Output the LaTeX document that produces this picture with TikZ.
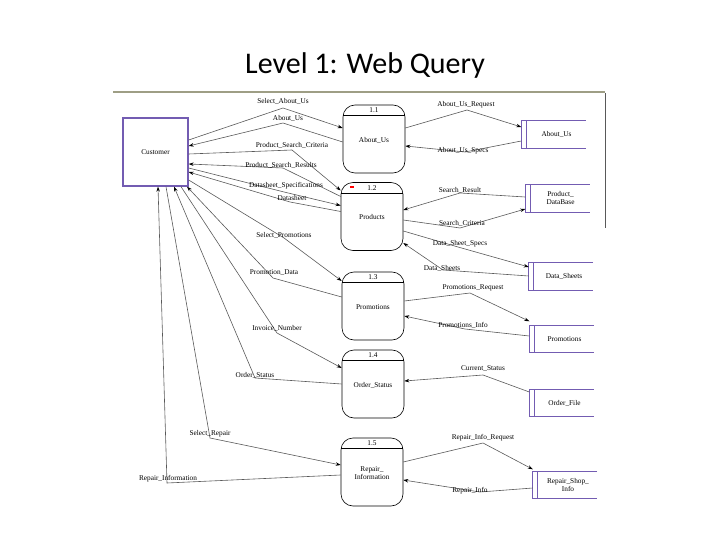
\documentclass[tikz,border=0pt]{standalone}
\usepackage{fontspec}
\setmainfont{Liberation Serif}
\newfontfamily\titlefont{Carlito}
\usetikzlibrary{arrows.meta}
\definecolor{storecol}{rgb}{0.45,0.36,0.70}
\definecolor{linecol}{rgb}{0.35,0.35,0.35}
\definecolor{rulecol}{rgb}{0.62,0.62,0.52}
\begin{document}
\begin{tikzpicture}[x=1pt,y=-1pt,
  lbl/.style={font=\fontsize{7.3}{8}\selectfont,inner sep=0.5pt,align=center},
  proc/.style={draw,rounded corners=12pt,minimum width=62pt,minimum height=68pt,line width=0.6pt},
  store/.style={minimum width=64pt,minimum height=27pt,inner sep=0pt},
  flow/.style={draw=linecol,line width=0.6pt,-{Stealth[length=5pt,width=3.5pt,color=black]}}]
\useasboundingbox (0,0) rectangle (720,540);
% title and frame
\node[font=\titlefont\fontsize{30}{33}\selectfont] (title) at (365,66) {Level 1: Web Query};
\draw[rulecol,line width=2.5pt] (113,92) -- (605,92);
\draw[linecol,line width=0.5pt] (605,93) -- (605,228);
% external entity
\node[draw=storecol,line width=1.3pt,minimum width=65pt,minimum height=68pt,lbl] (c) at (155.5,152) {Customer};
% processes
\foreach \n/\x/\y/\num/\txt in {p1/374/139/1.1/About\_Us, p2/372/216.5/1.2/Products,
  p3/373/306/1.3/Promotions, p4/373/384/1.4/Order\_Status, p5/372/472/1.5/{Repair\_\\Information}}{
  \node[proc] (\n) at (\x,\y) {};
  \draw[line width=0.6pt] ([yshift=-11pt]\n.north west) -- ([yshift=-11pt]\n.north east);
  \node[lbl] (\n num) at ([yshift=-5.5pt]\n.north) {\num};
  \node[lbl] (\n txt) at ([yshift=-1pt]\n.center) {\txt};
}
\node[fill=red,minimum width=4pt,minimum height=2pt,inner sep=0pt] (mark) at (352,187) {};
% data stores
\foreach \n/\x/\y/\txt in {s1/553.5/134.5/About\_Us, s2/557.5/198.5/{Product\_\\DataBase},
  s3/561/276.5/Data\_Sheets, s4/561.5/339/Promotions, s5/561.5/403/Order\_File, s6/565/485/{Repair\_Shop\_\\Info}}{
  \node[store] (\n) at (\x,\y) {};
  \draw[storecol,line width=1pt] (\n.north east) -- (\n.north west) -- (\n.south west) -- (\n.south east);
  \draw[storecol,line width=0.8pt] ([xshift=5pt]\n.north west) -- ([xshift=5pt]\n.south west);
  \node[lbl] (\n txt) at ([xshift=3pt]\n.center) {\txt};
}
% bend points
\coordinate (b1) at (283,108);  \coordinate (b2) at (283,123);
\coordinate (b3) at (292,150);  \coordinate (b4) at (283,168);
\coordinate (b5) at (284,192);  \coordinate (b6) at (290,202);
\coordinate (b7) at (284,238);  \coordinate (b8) at (273,278);
\coordinate (b9) at (277,333);  \coordinate (b10) at (255,378);
\coordinate (b11) at (210,438); \coordinate (b12) at (167,483);
\coordinate (b13) at (467,110); \coordinate (b14) at (465,152);
\coordinate (b15) at (460,193); \coordinate (b16) at (460,228);
\coordinate (b17) at (458,247); \coordinate (b18) at (443,270);
\coordinate (b19) at (470,293); \coordinate (b20) at (465,329);
\coordinate (b21) at (483,375); \coordinate (b22) at (483,443);
\coordinate (b23) at (480,492);
% flows, customer side
\draw[flow] ([yshift=12pt]c.east) -- (b1) -- ([yshift=11pt]p1.west);
\draw[flow] ([yshift=-3pt]p1.west) -- (b2) -- ([yshift=6pt]c.east);
\draw[flow] ([yshift=-2pt]c.east) -- (b3) -- ([yshift=26pt]p2.west);
\draw[flow] ([yshift=20pt]p2.west) -- (b4) -- ([yshift=-12pt]c.east);
\draw[flow] ([yshift=-16pt]c.east) -- (b5) -- ([yshift=11pt]p2.west);
\draw[flow] ([yshift=5pt]p2.west) -- (b6) -- ([yshift=-20pt]c.east);
\draw[flow] ([yshift=-28pt]c.east) -- (b7) -- ([yshift=25pt]p3.west);
\draw[flow] ([yshift=9pt]p3.west) -- (b8) -- ([xshift=31.5pt]c.south);
\draw[flow] ([xshift=25.5pt]c.south) -- (b9) -- ([yshift=16pt]p4.west);
\draw[flow] (p4.west) -- (b10) -- ([xshift=18.5pt]c.south);
\draw[flow] ([xshift=10.5pt]c.south) -- (b11) -- ([yshift=7pt]p5.west);
\draw[flow] ([yshift=-3pt]p5.west) -- (b12) -- ([xshift=2.5pt]c.south);
% flows, store side
\draw[flow] ([yshift=11pt]p1.east) -- (b13) -- ([yshift=7.5pt]s1.west);
\draw[flow] ([yshift=-6.5pt]s1.west) -- (b14) -- ([yshift=-7pt]p1.east);
\draw[flow] ([yshift=1.5pt]s2.west) -- (b15) -- ([yshift=6.5pt]p2.east);
\draw[flow] ([yshift=-3.5pt]p2.east) -- (b16) -- ([yshift=-10.5pt]s2.west);
\draw[flow] ([yshift=-14.5pt]p2.east) -- (b17) -- ([yshift=9.5pt]s3.west);
\draw[flow] ([yshift=0.5pt]s3.west) -- (b18) -- ([yshift=-26.5pt]p2.east);
\draw[flow] ([yshift=5pt]p3.east) -- (b19) -- ([yshift=4pt]s4.north west);
\draw[flow] ([yshift=3pt]s4.west) -- (b20) -- ([yshift=-10pt]p3.east);
\draw[flow] ([yshift=11pt]s5.west) -- (b21) -- ([yshift=3pt]p4.east);
\draw[flow] ([yshift=10pt]p5.east) -- (b22) -- ([yshift=2pt]s6.north west);
\draw[flow] ([yshift=-3pt]s6.west) -- (b23) -- ([yshift=-8pt]p5.east);
% flow labels
\node[lbl] (l1) at (283,101) {Select\_About\_Us};
\node[lbl] (l2) at (288,118) {About\_Us};
\node[lbl] (l3) at (292,145) {Product\_Search\_Criteria};
\node[lbl] (l4) at (281,165) {Product\_Search\_Results};
\node[lbl] (l5) at (286,186) {Datasheet\_Specifications};
\node[lbl] (l6) at (292,198) {Datasheet};
\node[lbl] (l7) at (284,235) {Select\_Promotions};
\node[lbl] (l8) at (274,273) {Promotion\_Data};
\node[lbl] (l9) at (277,328) {Invoice\_Number};
\node[lbl] (l10) at (255,375) {Order\_Status};
\node[lbl] (l11) at (210,434) {Select\_Repair};
\node[lbl] (l12) at (168,479) {Repair\_Information};
\node[lbl] (l13) at (466,105) {About\_Us\_Request};
\node[lbl] (l14) at (463,151) {About\_Us\_Specs};
\node[lbl] (l15) at (460,190) {Search\_Result};
\node[lbl] (l16) at (462,223) {Search\_Criteria};
\node[lbl] (l17) at (460,244) {Data\_Sheet\_Specs};
\node[lbl] (l18) at (442,268) {Data\_Sheets};
\node[lbl] (l19) at (473,288) {Promotions\_Request};
\node[lbl] (l20) at (463,325) {Promotions\_Info};
\node[lbl] (l21) at (483,369) {Current\_Status};
\node[lbl] (l22) at (483,438) {Repair\_Info\_Request};
\node[lbl] (l23) at (470,491) {Repair\_Info};
\end{tikzpicture}
\end{document}
